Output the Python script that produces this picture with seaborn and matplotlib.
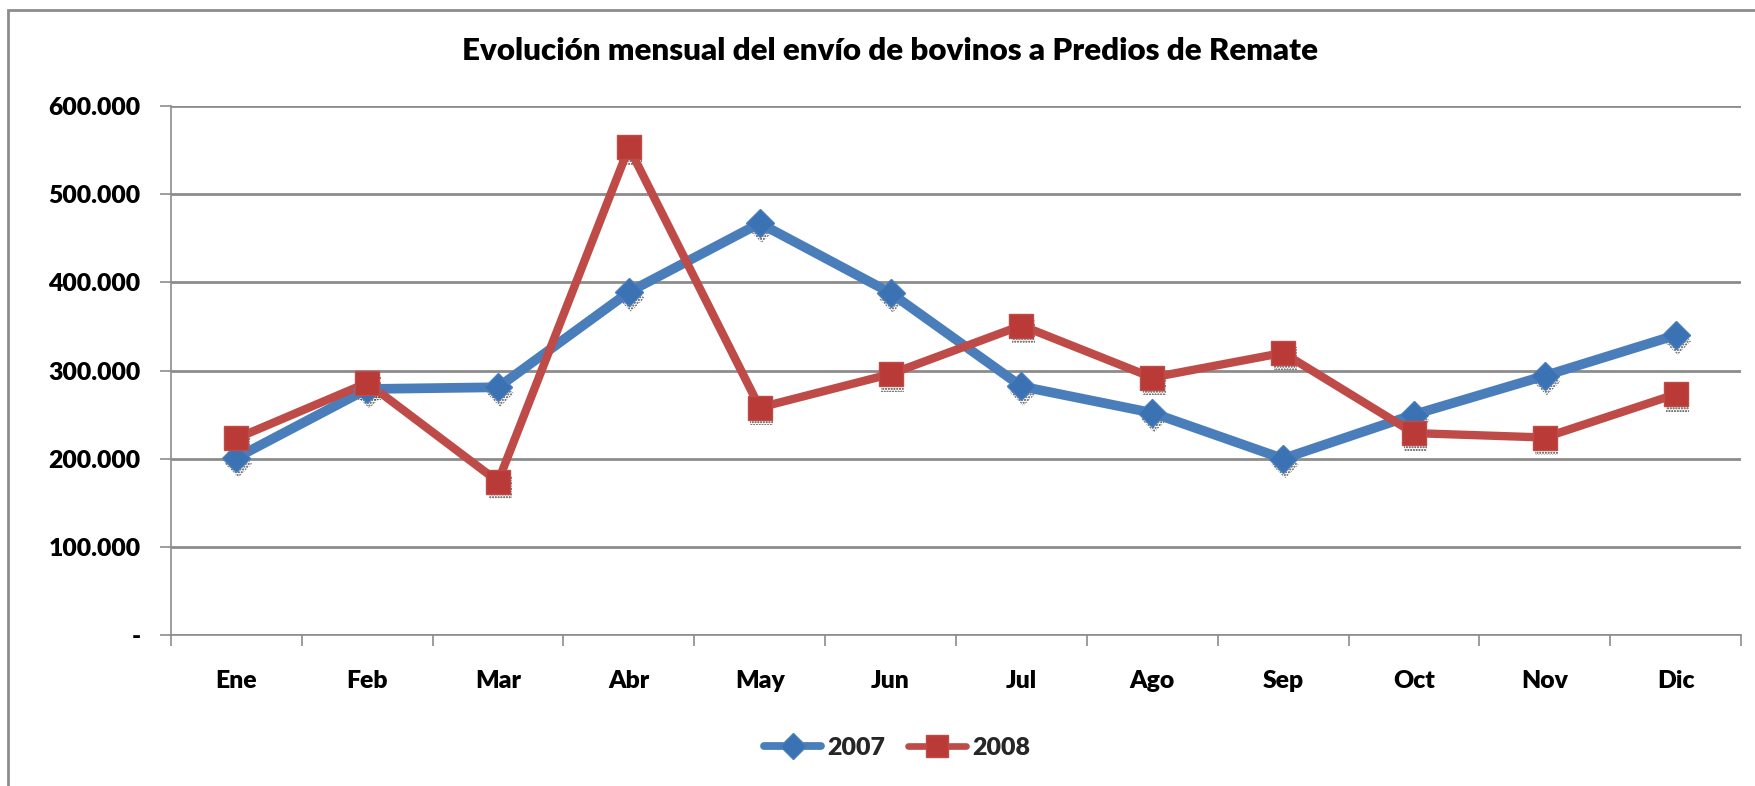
import numpy as np
import pandas as pd
import matplotlib
matplotlib.use("Agg")
import matplotlib.pyplot as plt
import matplotlib.transforms as mtransforms
from matplotlib.patches import Rectangle
from matplotlib.lines import Line2D
from matplotlib.ticker import FuncFormatter, MultipleLocator
import seaborn as sns

# Monthly shipments of cattle to auction yards
meses = ["Ene", "Feb", "Mar", "Abr", "May", "Jun", "Jul", "Ago", "Sep", "Oct", "Nov", "Dic"]
envios_2007 = [201000, 279000, 281000, 389000, 467000, 388000, 282000, 252000, 200000, 250000, 294000, 340000]
envios_2008 = [223000, 286000, 174000, 553000, 258000, 296000, 351000, 292000, 320000, 229000, 224000, 273000]
series = ["2007", "2008"]
titulo = "Evolución mensual del envío de bovinos a Predios de Remate"

line_colors = {"2007": "#4A7EBB", "2008": "#BE4B48"}
marker_face = {"2007": "#3B72B4", "2008": "#BA3A37"}
marker_shape = {"2007": "D", "2008": "s"}
marker_size = {"2007": 14.5, "2008": 17.5}
line_width = {"2007": 7.0, "2008": 6.0}

df = pd.DataFrame({
    "mes": meses * 2,
    "valor": envios_2007 + envios_2008,
    "serie": [series[0]] * len(meses) + [series[1]] * len(meses),
})
df["pos"] = df["mes"].map({m: i for i, m in enumerate(meses)})

sns.set_theme(style="white")
FONT = ["Lato", "DejaVu Sans"]
plt.rcParams["font.family"] = FONT
plt.rcParams["hatch.linewidth"] = 1.0
WEIGHT = "heavy"

W, H = 1755, 786
fig = plt.figure(figsize=(W / 100, H / 100), dpi=100)
ax = fig.add_axes([171 / W, 1 - 635 / H, (1741 - 171) / W, (635 - 106) / H])

# dotted drop shadow under each marker
shadow = mtransforms.offset_copy(ax.transData, fig=fig, x=2, y=-6, units="dots")
for s in series:
    sub = df[df["serie"] == s]
    ax.scatter(sub["pos"], sub["valor"], marker=marker_shape[s],
               s=(marker_size[s] * 0.95) ** 2, facecolor="none", edgecolor="#444444",
               hatch="......", linewidths=0, transform=shadow, zorder=2)

sns.lineplot(data=df, x="pos", y="valor", hue="serie", palette=line_colors,
             sort=False, estimator=None, ax=ax, legend=False, zorder=3)
for line, s in zip(ax.get_lines(), series):
    line.set_linewidth(line_width[s])
    line.set_solid_joinstyle("miter")

for s in series:
    sub = df[df["serie"] == s]
    ax.plot(sub["pos"], sub["valor"], linestyle="none", marker=marker_shape[s],
            markersize=marker_size[s], markerfacecolor=marker_face[s],
            markeredgecolor=line_colors[s], markeredgewidth=1.0, zorder=4)

ax.set_xlim(-0.5, len(meses) - 0.5)
ax.set_ylim(0, 600000)
ax.yaxis.set_major_locator(MultipleLocator(100000))
ax.yaxis.set_major_formatter(FuncFormatter(
    lambda v, p: "-" if v == 0 else f"{int(v):,}".replace(",", ".")))
ax.set_xticks(range(len(meses)))
ax.set_xticklabels(meses)
ax.set_xticks(np.arange(-0.5, len(meses), 1.0), minor=True)
ax.set_xlabel("")
ax.set_ylabel("")

grid_c = "#8C8C8C"
ax.grid(axis="y", color=grid_c, linewidth=2.0, zorder=0)
ax.grid(axis="x", visible=False)
ax.set_axisbelow(True)
for side in ["top", "right"]:
    ax.spines[side].set_visible(False)
for side in ["left", "bottom"]:
    ax.spines[side].set_color(grid_c)
    ax.spines[side].set_linewidth(1.2)

ax.tick_params(axis="y", which="major", left=True, length=8, width=1.2, color=grid_c,
               pad=14, labelsize=17.8, labelcolor="black")
ax.tick_params(axis="x", which="major", bottom=False, pad=19, labelsize=17.8,
               labelcolor="black")
ax.tick_params(axis="x", which="minor", bottom=True, length=8, width=1.2, color=grid_c)
for lab in ax.get_xticklabels() + ax.get_yticklabels():
    lab.set_fontweight(WEIGHT)

fig.text(890 / W, 1 - 51 / H, titulo, ha="center", va="center",
         fontsize=22.5, fontweight=WEIGHT, color="black")

# outer chart frame
fig.add_artist(Rectangle((8 / W, -0.1), 1.2, 1 - 10 / H + 0.1, transform=fig.transFigure,
                         fill=False, edgecolor="#8C8C8C", linewidth=2.0))

handles = [Line2D([], [], color=line_colors[s], linewidth=line_width[s] * 0.8,
                  marker=marker_shape[s], markersize=marker_size[s] * 0.9,
                  markerfacecolor=marker_face[s], markeredgecolor=line_colors[s])
           for s in series]
leg = fig.legend(handles, series, loc="center", bbox_to_anchor=(897 / W, 1 - 748 / H),
                 ncol=2, frameon=False, handlelength=2.3, columnspacing=0.9,
                 handletextpad=0.25, prop={"size": 18, "weight": WEIGHT})

fig.savefig("out.png", dpi=100, facecolor="white")
